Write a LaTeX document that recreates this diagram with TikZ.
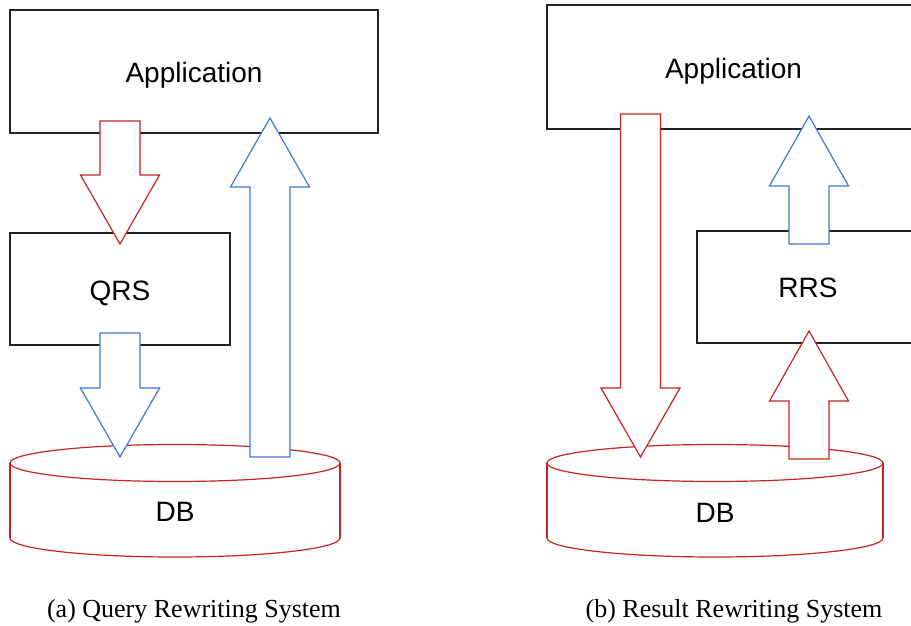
\documentclass[tikz,border=0pt]{standalone}
\usepackage{fontspec}
\setmainfont{Liberation Serif}
\setsansfont{Liberation Sans}
\definecolor{dred}{HTML}{C8231E}
\definecolor{dblue}{HTML}{3C78D8}
\definecolor{boxline}{HTML}{222222}
\newcommand{\blkdown}[5]{% color, cx, ytop, yhead, ytip
  \draw[#1, line width=1.2pt, fill=white, line join=miter]
    (#2-20,#3) -- (#2+20,#3) -- (#2+20,#4) -- (#2+39.5,#4) -- (#2,#5)
    -- (#2-39.5,#4) -- (#2-20,#4) -- cycle;}
\newcommand{\blkup}[5]{% color, cx, ybottom, yhead, ytip
  \draw[#1, line width=1.2pt, fill=white, line join=miter]
    (#2-20,#3) -- (#2+20,#3) -- (#2+20,#4) -- (#2+39.5,#4) -- (#2,#5)
    -- (#2-39.5,#4) -- (#2-20,#4) -- cycle;}
\newcommand{\dbcyl}[4]{% xleft, xright, ytopcenter, ybottomcenter
  \draw[dred, line width=1.2pt, fill=white] ({(#1+#2)/2},#4) ellipse [x radius={(#2-#1)/2*1pt}, y radius=19pt];
  \fill[white] (#1,#3) rectangle (#2,#4);
  \draw[dred, line width=1.2pt] (#1,#3) -- (#1,#4) (#2,#3) -- (#2,#4);
  \draw[dred, line width=1.2pt, fill=white] ({(#1+#2)/2},#3) ellipse [x radius={(#2-#1)/2*1pt}, y radius=18.5pt];}
\begin{document}
\begin{tikzpicture}[x=1pt, y=-1pt,
  box/.style={draw=boxline, line width=1.1pt, fill=white, inner sep=0pt},
  lbl/.style={inner sep=0pt, anchor=base, font=\sffamily\fontsize{28}{32}\selectfont},
  captext/.style={inner sep=0pt, anchor=base, font=\rmfamily\fontsize{26}{30}\selectfont}]
\clip (0,0) rectangle (911,626);
\fill[white] (0,0) rectangle (911,626);
% ---- (a) ----
\node[box, minimum width=368pt, minimum height=123pt] (app1) at (194,71.5) {};
\node[lbl] (app1t) at (194,82) {Application};
\node[box, minimum width=220pt, minimum height=112pt] (qrs) at (120,289) {};
\node[lbl] (qrst) at (120,300) {QRS};
\dbcyl{10}{340}{463}{538}
\node[lbl] (db1) at (175,521) {DB};
\blkdown{dred}{120}{121}{175}{244}
\blkdown{dblue}{120}{333}{388}{457}
\blkup{dblue}{270}{457}{187}{118}
\node[captext] (capa) at (194,617) {(a) Query Rewriting System};
% ---- (b) ----
\node[box, minimum width=373pt, minimum height=124pt] (app2) at (733.5,67) {};
\node[lbl] (app2t) at (733.5,79) {Application};
\node[box, minimum width=222pt, minimum height=112pt] (rrs) at (808,287) {};
\node[lbl] (rrst) at (808,297) {RRS};
\dbcyl{547}{883}{463}{538}
\node[lbl] (db2) at (715,522) {DB};
\blkdown{dred}{640.5}{114}{388}{457}
\blkup{dblue}{809}{244}{186}{116}
\blkup{dred}{809}{459}{401}{331}
\node[captext] (capb) at (734,617) {(b) Result Rewriting System};
\end{tikzpicture}
\end{document}
